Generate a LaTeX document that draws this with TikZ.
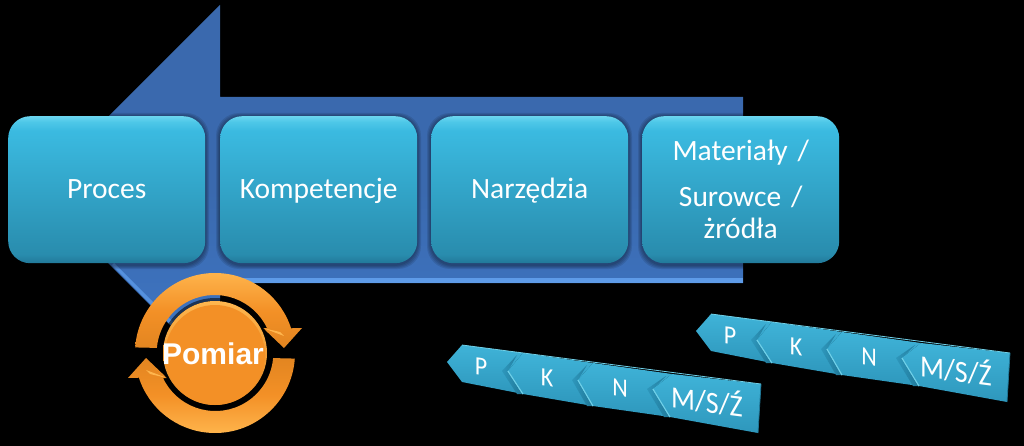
\documentclass[tikz,border=0pt]{standalone}
\usepackage{fontspec}
\usetikzlibrary{calc}
\setmainfont{Carlito}
\newfontfamily\armo{Liberation Sans}
\definecolor{arrowtop}{HTML}{3A69AE}
\definecolor{arrowlow}{HTML}{3F78C8}
\definecolor{arrowrim}{HTML}{5E9BE8}
\definecolor{orangea}{HTML}{F39026}
\definecolor{orangeb}{HTML}{FFB64E}
\definecolor{orangec}{HTML}{E08420}
\definecolor{stripa}{HTML}{3FB3D8}
\definecolor{stripb}{HTML}{2E97BC}
\definecolor{stripl}{HTML}{6FD0E8}
\definecolor{stripd}{HTML}{1F7696}
\pgfdeclareverticalshading{boxshade}{100bp}{
  rgb(0bp)=(0.13,0.47,0.60);
  rgb(25bp)=(0.13,0.47,0.60);
  rgb(28bp)=(0.16,0.55,0.68);
  rgb(70bp)=(0.23,0.73,0.88);
  rgb(73bp)=(0.30,0.78,0.91);
  rgb(75bp)=(0.42,0.84,0.94);
  rgb(100bp)=(0.42,0.84,0.94)}
\newcommand{\boxline}{\rule{0pt}{26pt}\rule[-8pt]{0pt}{8pt}}
\tikzset{
  x=1pt,y=-1pt,
  procbox/.style={shading=boxshade,rounded corners=22pt,minimum width=197pt,minimum height=147pt,
    inner sep=0pt,text=white,font=\fontsize{29.5}{32}\selectfont,align=center,text width=194pt,anchor=north west},
  chevron/.style={top color=stripa,bottom color=stripb},
  chevlabel/.style={text=white,inner sep=0pt,yslant=-0.13,yscale=1.1},
  ringarrow/.style={top color=orangeb,bottom color=orangec,middle color=orangea}
}
\newcommand{\boxshadow}[1]{%
  \foreach \g in {4,3,2,1}{
    \fill[black,opacity=.10,rounded corners=23pt] (#1-\g,116-\g+1) rectangle ++(197+2*\g,147+2*\g+1);
  }}
\newcommand{\chevfold}[6]{%
  \path[left color=stripb,right color=stripd] (#1,#2)--(#3,#4)--(#5,#6)--(#5-6,#6)--(#1-6,#2)--(#3-6,#4+2)--cycle;
  \draw[stripl,line width=1pt] (#1,#2)--(#5,#6);}
\newcommand{\chevstrip}[3]{%
  \begin{scope}[shift={(#2,#3)}]
    \path[chevron] (447,362)--(462,345)--(523,353)--(508,371)--(523,394)--(462,382)--cycle;
    \chevfold{508}{371}{523}{353}{523}{394}
    \path[chevron] (508,371)--(523,353)--(593,363)--(578,380)--(593,406)--(523,394)--cycle;
    \draw[stripl,line width=1pt] (508,371)--(523,394);
    \chevfold{578}{380}{593}{363}{593}{406}
    \path[chevron] (578,380)--(593,363)--(672,374)--(653,389)--(670,417)--(593,406)--cycle;
    \draw[stripl,line width=1pt] (578,380)--(593,406);
    \chevfold{653}{389}{672}{374}{670}{417}
    \path[chevron] (653,389)--(672,374)--(761,384)--(758,433)--(670,417)--cycle;
    \draw[stripl,line width=1pt] (653,389)--(670,417);
    \draw[stripl,line width=.8pt] (462,345)--(761,384);
    \draw[stripd,line width=.8pt] (761,384)--(758,433);
    \node[chevlabel,font=\fontsize{24}{27}\selectfont] (#1p) at (481,367) {P};
    \node[chevlabel,font=\fontsize{24}{27}\selectfont] (#1k) at (547,378) {K};
    \node[chevlabel,font=\fontsize{24}{27}\selectfont] (#1n) at (620,388) {N};
    \node[chevlabel,font=\fontsize{28}{30}\selectfont] (#1m) at (707,400) {M/S/Ź};
  \end{scope}}
\begin{document}
\begin{tikzpicture}
\useasboundingbox (0,0) rectangle (1024,446);
\fill[black] (0,0) rectangle (1024,446);
% big arrow
\path[top color=arrowtop,bottom color=arrowlow,middle color=arrowtop]
  (743,97)--(220,97)--(220,5)--(35,190)--(220,375)--(220,283)--(743,283)--cycle;
\fill[arrowrim] (220,278)--(743,278)--(743,283)--(220,283)--cycle;
\fill[arrowrim!70!arrowlow] (112,265)--(114,263)--(220,369)--(220,375)--cycle;
% boxes
\boxshadow{8}\boxshadow{220}\boxshadow{431}\boxshadow{642}
\node[procbox] (proces) at (8,116) {\boxline Proces};
\node[procbox] (komp) at (220,116) {\boxline Kompetencje};
\node[procbox] (narz) at (431,116) {\boxline Narzędzia};
\node[procbox] (mat) at (642,116) {Materiały /\\[14pt]Surowce /\\żródła};
% measure ring
\coordinate (ring) at (215,353);
\path[ringarrow]
  (ring) ++(176:80pt) arc[start angle=176,end angle=18,radius=80pt]
  -- (302,328) -- (284,348) -- (263,328) -- (267,328)
  arc[start angle=25.5,end angle=175,radius=58pt] -- cycle;
\fill[orangeb] (263,328)--(280,332)--(284,336)--cycle;
\begin{scope}[rotate around={180:(ring)}]
\path[top color=orangec,bottom color=orangeb,middle color=orangea]
  (ring) ++(176:80pt) arc[start angle=176,end angle=18,radius=80pt]
  -- (302,328) -- (284,348) -- (263,328) -- (267,328)
  arc[start angle=25.5,end angle=175,radius=58pt] -- cycle;
\fill[orangeb] (263,328)--(280,332)--(284,336)--cycle;
\end{scope}
\fill[black,opacity=.55] (ring) circle[radius=55pt];
\fill[top color=orangeb,bottom color=orangec] (ring) circle[radius=52pt];
\fill[orangea] ($(ring)+(0,2)$) circle[radius=50pt];
\node[text=white,inner sep=0pt,font=\armo\bfseries\fontsize{30}{32}\selectfont] (pomiar) at (213,354) {Pomiar};
% strips
\chevstrip{a}{0}{0}
\chevstrip{b}{249}{-31}
\end{tikzpicture}
\end{document}
